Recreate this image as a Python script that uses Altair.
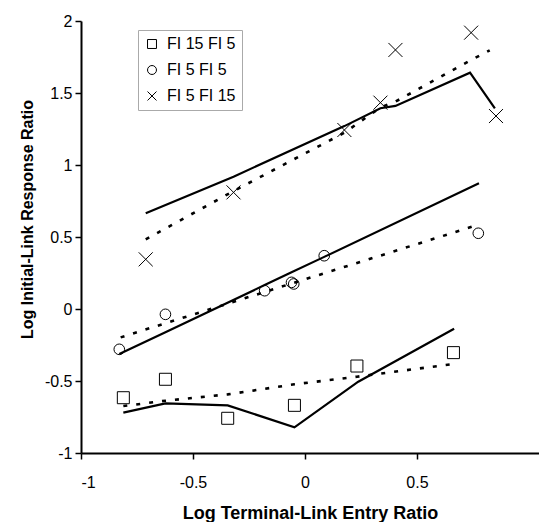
import altair as alt
import pandas as pd

groups = ["FI 15 FI 5", "FI 5 FI 5", "FI 5 FI 15"]

# FI 15 FI 5 (squares)
sq_x = [-0.811, -0.623, -0.345, -0.047, 0.232, 0.663]
sq_y = [-0.616, -0.488, -0.759, -0.669, -0.396, -0.303]
sq_solid_x = [-0.811, -0.623, -0.345, -0.047, 0.238, 0.666]
sq_solid_y = [-0.720, -0.655, -0.669, -0.822, -0.505, -0.137]
sq_dot_x = [-0.811, -0.623, -0.345, -0.047, 0.232, 0.663]
sq_dot_y = [-0.674, -0.637, -0.593, -0.523, -0.470, -0.382]

# FI 5 FI 5 (circles)
ci_x = [-0.829, -0.623, -0.180, -0.060, -0.050, 0.086, 0.774]
ci_y = [-0.280, -0.037, 0.127, 0.185, 0.174, 0.370, 0.526]
ci_solid_x = [-0.829, -0.623, -0.180, -0.060, 0.086, 0.777]
ci_solid_y = [-0.313, -0.161, 0.166, 0.255, 0.362, 0.873]
ci_dot_x = [-0.823, -0.623, -0.180, -0.060, 0.086, 0.770]
ci_dot_y = [-0.197, -0.099, 0.118, 0.177, 0.248, 0.583]

# FI 5 FI 15 (crosses)
cr_x = [-0.711, -0.319, 0.176, 0.337, 0.404, 0.742, 0.853]
cr_y = [0.345, 0.810, 1.243, 1.433, 1.799, 1.919, 1.340]
cr_solid_x = [-0.711, -0.319, 0.176, 0.337, 0.404, 0.737, 0.848]
cr_solid_y = [0.665, 0.919, 1.270, 1.394, 1.410, 1.641, 1.394]
cr_dot_x = [-0.711, -0.319, 0.176, 0.337, 0.404, 0.742, 0.825]
cr_dot_y = [0.484, 0.819, 1.224, 1.400, 1.440, 1.729, 1.796]

x_ticks = [-1, -0.5, 0, 0.5]
y_ticks = [-1, -0.5, 0, 0.5, 1, 1.5, 2]


def mk(series):
    rows = []
    for g, xs, ys in series:
        for a, b in zip(xs, ys):
            rows.append({"group": g, "x": a, "y": b})
    return pd.DataFrame(rows)


points = mk([(groups[0], sq_x, sq_y), (groups[1], ci_x, ci_y), (groups[2], cr_x, cr_y)])
solid = mk([(groups[0], sq_solid_x, sq_solid_y), (groups[1], ci_solid_x, ci_solid_y),
            (groups[2], cr_solid_x, cr_solid_y)])
dotted = mk([(groups[0], sq_dot_x, sq_dot_y), (groups[1], ci_dot_x, ci_dot_y),
             (groups[2], cr_dot_x, cr_dot_y)])

FONT = "Liberation Sans"
xs = alt.Scale(domain=[-1, 1.045], nice=False, zero=False)
ys = alt.Scale(domain=[-1, 2], nice=False, zero=False)

xenc = alt.X("x:Q", scale=xs, axis=alt.Axis(
    values=x_ticks, title="Log Terminal-Link Entry Ratio", labelExpr="'' + datum.value",
    labelPadding=15, titleFontSize=18, titleY=65, titleBaseline="alphabetic"))
yenc = alt.Y("y:Q", scale=ys, axis=alt.Axis(
    values=y_ticks, title="Log Initial-Link Response Ratio", labelExpr="'' + datum.value",
    titleX=-49, titleY=198, titleBaseline="alphabetic"))

solid_layer = alt.Chart(solid).mark_line(color="black", strokeWidth=2.2).encode(
    x=xenc, y=yenc, detail="group:N")
dotted_layer = alt.Chart(dotted).mark_line(color="black", strokeWidth=2.6, strokeDash=[4, 9]).encode(
    x=xenc, y=yenc, detail="group:N")

cross_path = "M-1,-1L1,1M-1,1L1,-1"
shape_scale = alt.Scale(domain=groups, range=["square", "circle", cross_path])
legend = alt.Legend(title=None, orient="none", legendX=57, legendY=9, symbolSize=80,
                    symbolStrokeColor="black", symbolStrokeWidth=1, symbolFillColor="transparent",
                    labelFont=FONT, labelFontSize=16, labelColor="black",
                    strokeColor="#aaa", padding=6, rowPadding=10, labelOffset=7)

sizes = [144, 113, 196]
point_layers = []
for g, s in zip(groups, sizes):
    point_layers.append(
        alt.Chart(points).transform_filter(alt.datum.group == g).mark_point(
            filled=False, color="black", strokeWidth=1, opacity=1, size=s).encode(
            x=xenc, y=yenc, shape=alt.Shape("group:N", scale=shape_scale, legend=legend)))

chart = alt.layer(solid_layer, dotted_layer, *point_layers).properties(
    width=458, height=432, autosize="none",
    padding={"left": 73, "top": 13, "right": 0, "bottom": 71},
).configure_view(stroke=None).configure_axis(
    grid=False, domainColor="black", domainWidth=2, tickColor="black", tickWidth=1.5, tickSize=6,
    labelFont=FONT, labelFontSize=16, labelColor="black", labelPadding=3,
    titleFont=FONT, titleFontSize=16, titleFontWeight="bold", titleColor="black",
)

chart.save("out.html", embed_options={"renderer": "svg", "actions": False})
